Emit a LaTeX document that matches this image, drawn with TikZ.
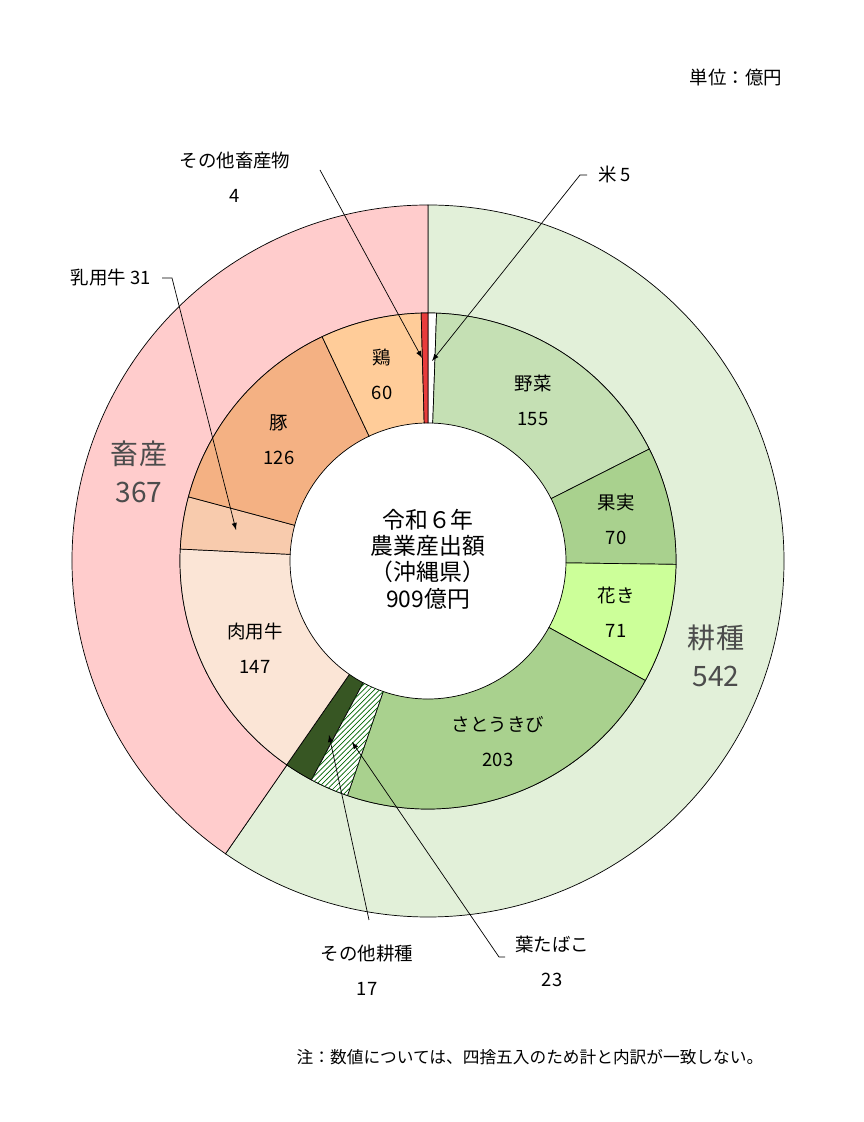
\documentclass[tikz,border=0pt]{standalone}
\usepackage{fontspec}
\setmainfont{Noto Sans CJK JP}
\usetikzlibrary{patterns}

\definecolor{kousyu}{HTML}{E2F0D9}
\definecolor{chikusan}{HTML}{FFCCCC}
\definecolor{yasai}{HTML}{C5E0B4}
\definecolor{kajitsu}{HTML}{A9D18E}
\definecolor{kaki}{HTML}{CCFF99}
\definecolor{sonotak}{HTML}{375623}
\definecolor{nikuyo}{HTML}{FBE5D6}
\definecolor{nyuyo}{HTML}{F8CBAD}
\definecolor{buta}{HTML}{F4B183}
\definecolor{tori}{HTML}{FFCC99}
\definecolor{sonotac}{HTML}{E83C3C}

\begin{document}
\begin{tikzpicture}[
    x=0.02cm, y=0.02cm,
    lbl/.style={font=\fontsize{10.5}{12}\selectfont, align=center},
    big/.style={font=\fontsize{16}{18}\selectfont, text=black!70, align=center},
    lead/.style={->, >=latex, thin}
]
\useasboundingbox (0,0) rectangle (863,1122);

% outer ring
\begin{scope}[shift={(428,561)}]
\foreach \a/\b/\col in {90/-124.67/kousyu, -124.67/-270/chikusan}
  \draw[fill=\col, thin] (\a:356) arc[start angle=\a, end angle=\b, radius=356]
      -- (\b:248) arc[start angle=\b, end angle=\a, radius=248] -- cycle;

% inner ring
\foreach \p/\q/\col in {0/5/white, 5/160/yasai, 160/230/kajitsu, 230/301/kaki,
    301/504/kajitsu, 527/544/sonotak, 544/691/nikuyo, 691/722/nyuyo,
    722/848/buta, 848/908/tori, 908/912/sonotac}{
  \pgfmathsetmacro\a{90-\p/912*360}
  \pgfmathsetmacro\b{90-\q/912*360}
  \draw[fill=\col, thin] (\a:248) arc[start angle=\a, end angle=\b, radius=248]
      -- (\b:138) arc[start angle=\b, end angle=\a, radius=138] -- cycle;
}
\pgfmathsetmacro\a{90-504/912*360}
\pgfmathsetmacro\b{90-527/912*360}
\draw[fill=white, thin] (\a:248) arc[start angle=\a, end angle=\b, radius=248]
    -- (\b:138) arc[start angle=\b, end angle=\a, radius=138] -- cycle;
\fill[pattern=north east lines, pattern color=green!40!black] (\a:248) arc[start angle=\a, end angle=\b, radius=248]
    -- (\b:138) arc[start angle=\b, end angle=\a, radius=138] -- cycle;
\end{scope}

% labels in slices
\node[lbl] (yasai) at (533,722) {野菜\\[8pt]155};
\node[lbl] (kajitsu) at (616,603) {果実\\[8pt]70};
\node[lbl] (kaki) at (616,510) {花き\\[8pt]71};
\node[lbl] (satou) at (498,380) {さとうきび\\[8pt]203};
\node[lbl] (niku) at (255,474) {肉用牛\\[8pt]147};
\node[lbl] (buta) at (279,682) {豚\\[8pt]126};
\node[lbl] (tori) at (382,748) {鶏\\[8pt]60};
\node[big] (chiku) at (139,650) {畜産\\[4pt]367};
\node[big] (kou) at (716,466) {耕種\\[4pt]542};
\node[font=\fontsize{13}{15}\selectfont, align=center] (center) at (428,563)
    {令和６年\\農業産出額\\（沖縄県）\\909億円};

% outside labels
\node[lbl] (unit) at (736,1044) {単位：億円};
\node[lbl] (sonochiku) at (235,945) {その他畜産物\\[8pt]4};
\node[lbl, anchor=west] (kome) at (592,947) {米 5};
\node[lbl, anchor=east] (nyu) at (157,844) {乳用牛 31};
\node[lbl] (sonokou) at (367,152) {その他耕種\\[8pt]17};
\node[lbl] (tabako) at (552,161) {葉たばこ\\[8pt]23};
\node[font=\fontsize{9.5}{11}\selectfont] (note) at (530,65) {注：数値については、四捨五入のため計と内訳が一致しない。};

% leader lines
\coordinate (c1) at (320,952);
\coordinate (c2) at (587,947);
\coordinate (c2b) at (580,947);
\coordinate (c3) at (162,844);
\coordinate (c3b) at (172,844);
\coordinate (c4) at (369,202);
\coordinate (c5) at (505,165);
\coordinate (c5b) at (499,165);
\draw[lead] (c1) -- (422,764);
\draw[lead] (c2) -- (c2b) -- (432,761);
\draw[lead] (c3) -- (c3b) -- (236,592);
\draw[lead] (c4) -- (329,387);
\draw[lead] (c5) -- (c5b) -- (352,380);
\end{tikzpicture}
\end{document}
